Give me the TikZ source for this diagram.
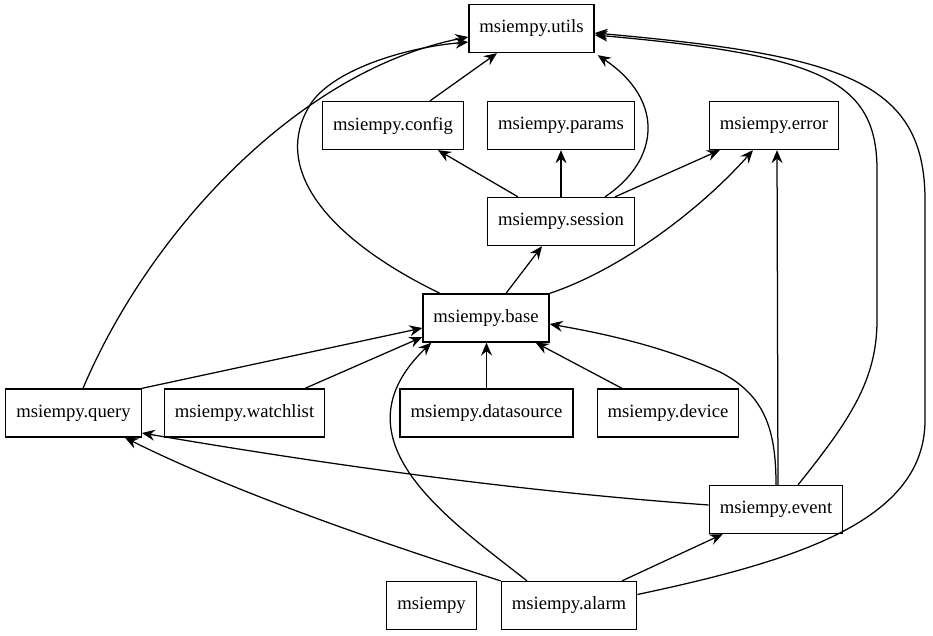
\documentclass[tikz,border=0pt]{standalone}
\usepackage{fontspec}
\setmainfont{Liberation Serif}
\usetikzlibrary{arrows.meta}
\begin{document}
\begin{tikzpicture}[x=1pt,y=-1pt,
  mod/.style={draw,line width=1.3pt,rectangle,minimum height=48pt,inner xsep=10.5pt,inner ysep=0pt,font=\fontsize{18.67}{22}\selectfont},
  dep/.style={line width=1.25pt,-{Stealth[length=13pt,width=11pt,inset=4.5pt]}}]
\useasboundingbox[fill=white] (0,0) rectangle (933,635);
\node[mod] (utils) at (531.5,28.5) {msiempy.utils};
\node[mod] (config) at (393,125.5) {msiempy.config};
\node[mod] (params) at (561,125.5) {msiempy.params};
\node[mod] (error) at (774,125.5) {msiempy.error};
\node[mod] (session) at (561,221.5) {msiempy.session};
\node[mod] (base) at (486,318) {msiempy.base};
\node[mod] (query) at (73.5,413) {msiempy.query};
\node[mod] (watchlist) at (244.5,413) {msiempy.watchlist};
\node[mod] (datasource) at (486.5,413) {msiempy.datasource};
\node[mod] (device) at (668,413) {msiempy.device};
\node[mod] (event) at (776,509.5) {msiempy.event};
\node[mod] (msiempy) at (431.5,605.5) {msiempy};
\node[mod] (alarm) at (569,605.5) {msiempy.alarm};

\draw[dep] ([xshift=37pt]config.north) -- ([xshift=-34.5pt]utils.south);
\draw[dep] ([xshift=-43pt]session.north) -- ([xshift=45pt]config.south);
\draw[dep] (session.north) -- (params.south);
\draw[dep] ([xshift=44pt]session.north) .. controls (660,160) and (665,100) .. ([xshift=3pt,yshift=-2pt]utils.south east);
\draw[dep] ([xshift=54pt]session.north) -- ([xshift=11pt]error.south west);
\draw[dep] ([xshift=20pt]base.north) -- ([xshift=-19pt]session.south);
\draw[dep] (base.north east) .. controls (620,270) and (700,210) .. ([xshift=-21pt]error.south);
\draw[dep] ([xshift=-46pt]base.north) .. controls (330,240) and (270,170) .. (310,105) .. controls (330,72) and (400,48) .. ([yshift=-13.5pt]utils.west);
\draw[dep] ([xshift=9.5pt]query.north) .. controls (150,230) and (300,70) .. ([yshift=-8.5pt]utils.west);
\draw[dep] (query.north east) -- ([yshift=-10pt]base.west);
\draw[dep] ([xshift=60.5pt]watchlist.north) -- ([yshift=-19pt]base.west);
\draw[dep] (datasource.north) -- ([xshift=0.5pt]base.south);
\draw[dep] ([xshift=-46pt]device.north) -- ([xshift=-14pt]base.south east);
\draw[dep] (event.north) .. controls (776,430) and (765,395) .. (720,372) .. controls (660,345) and (600,333) .. ([yshift=-6pt]base.east);
\draw[dep] ([xshift=2pt]event.north) -- ([xshift=3pt]error.south);
\draw[dep] ([xshift=22pt]event.north) .. controls (850,420) and (877,380) .. (877,320) -- (877,170) .. controls (877,80) and (820,55) .. ([yshift=-6.5pt]utils.east);
\draw[dep] ([yshift=4.5pt]event.west) .. controls (500,490) and (300,460) .. ([yshift=-20pt]query.east);
\draw[dep] (alarm.north west) .. controls (420,555) and (250,500) .. ([xshift=51.5pt]query.south);
\draw[dep] ([xshift=-42pt]alarm.north) .. controls (450,520) and (330,440) .. ([xshift=9pt]base.south west);
\draw[dep] ([xshift=53pt]alarm.north) -- ([xshift=14pt]event.south west);
\draw[dep] ([yshift=11pt]alarm.east) .. controls (800,560) and (925,520) .. (925,420) -- (925,200) .. controls (925,80) and (840,55) .. ([yshift=-4.5pt]utils.east);
\end{tikzpicture}
\end{document}
